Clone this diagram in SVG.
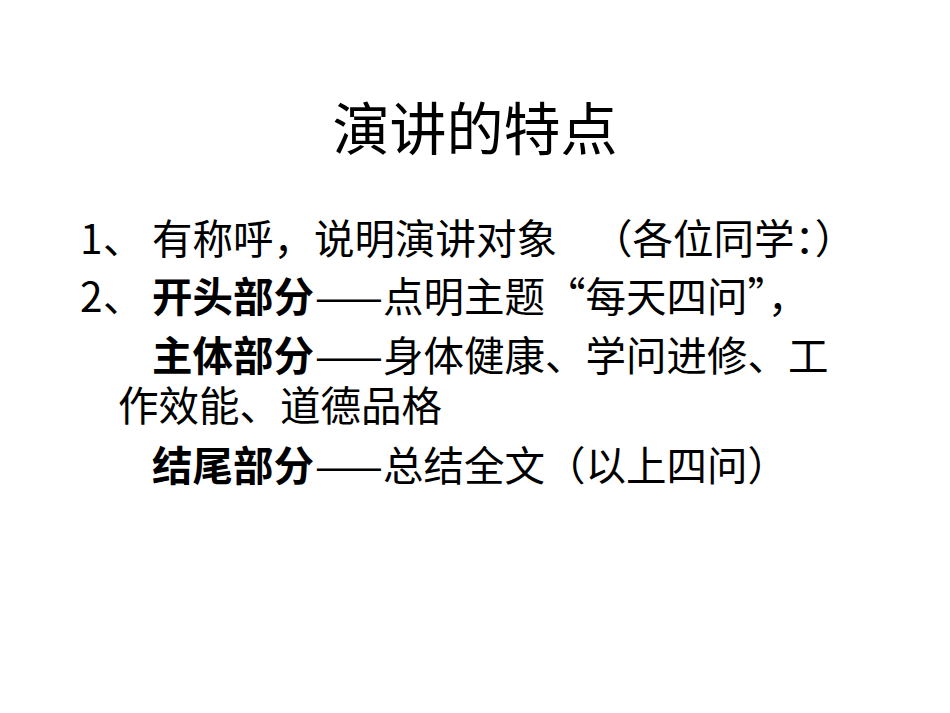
<svg xmlns="http://www.w3.org/2000/svg" width="950" height="713" viewBox="0 0 950 713">
<style>
text{font-family:"Noto Sans CJK SC","Liberation Sans",sans-serif;fill:#000}
.b{font-size:40.5px}
.k{font-weight:bold}
</style>
<rect width="950" height="713" fill="#fff"/>
<g id="title"><text x="475" y="150" font-size="57" text-anchor="middle">演讲的特点</text></g>
<g id="body" class="b">
<text class="b" x="80" y="254">1<tspan x="103">、</tspan><tspan x="152">有称呼，说明演讲对象</tspan><tspan x="592">（各位同学：）</tspan></text>
<text class="b" x="80" y="312">2<tspan x="103">、</tspan><tspan x="152" class="k">开头部分</tspan><tspan x="315">——点明主题“每天四问”，</tspan></text>
<text class="b" x="152" y="371"><tspan class="k">主体部分</tspan><tspan x="315">——身体健康、学问进修、工</tspan></text>
<text class="b" x="118" y="421">作效能、道德品格</text>
<text class="b" x="152" y="481"><tspan class="k">结尾部分</tspan><tspan x="315">——总结全文（以上四问）</tspan></text>
</g>
</svg>
